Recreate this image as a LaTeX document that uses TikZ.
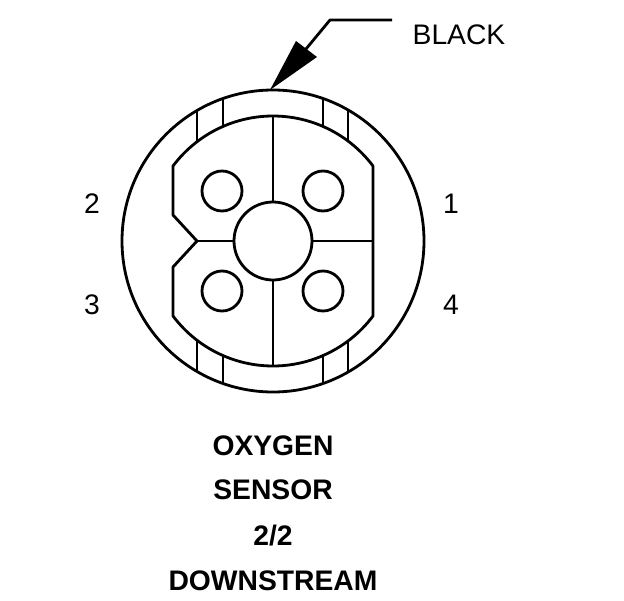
\documentclass[tikz,border=0pt]{standalone}
\usepackage{fontspec}
\setmainfont{Liberation Sans}
\tikzset{
    wire/.style={line width=2.1pt, line join=round},
    pinlabel/.style={font=\fontsize{21.2}{24}\selectfont, inner sep=0pt},
    titlelabel/.style={font=\fontsize{21.2}{24}\selectfont\bfseries, inner sep=0pt}
}
\begin{document}
\begin{tikzpicture}[x=0.75pt,y=0.75pt]
        \useasboundingbox (-273,-359) rectangle (351,241);

        % connector body
        \draw[wire] (0,0) circle (151);
        \draw[wire] (-100,75) arc (143.13:36.87:125) -- (100,-75)
            arc (-36.87:-143.13:125) -- (-100,-26) -- (-76,0) -- (-100,26) -- cycle;

        % center hub and cross
        \node[wire, draw, circle, minimum size=58.5pt, inner sep=0pt] (hub) at (0,0) {};
        \coordinate (notch) at (-76,0);
        \coordinate (sideright) at (100,0);
        \coordinate (archtop) at (0,125);
        \coordinate (archbottom) at (0,-125);
        \draw[wire] (notch) -- (hub);
        \draw[wire] (hub) -- (sideright);
        \draw[wire] (hub) -- (archtop);
        \draw[wire] (hub) -- (archbottom);

        % pins
        \draw[wire] (-51,50) circle (20);
        \draw[wire] (50,50) circle (20);
        \draw[wire] (-51,-50) circle (20);
        \draw[wire] (50,-50) circle (20);

        % ticks between the two arcs
        \foreach \dx in {-76,-50,50,75} {
            \draw[wire] (\dx,{125*sin(acos(\dx/125))}) -- (\dx,{151*sin(acos(\dx/151))});
            \draw[wire] (\dx,{-125*sin(acos(\dx/125))}) -- (\dx,{-151*sin(acos(\dx/151))});
        }

        % leader
        \coordinate (tip) at (-3,151);
        \coordinate (barbleft) at (23,200);
        \coordinate (barbright) at (44,184);
        \coordinate (barbmid) at (33,192);
        \coordinate (bend) at (57,221);
        \coordinate (leaderend) at (119,221);
        \fill (tip) -- (barbleft) -- (barbright) -- cycle;
        \draw[wire] (barbmid) -- (bend) -- (leaderend);
        \node[pinlabel] (blacklabel) at (186,206) {BLACK};

        % pin numbers
        \node[pinlabel] (pintwo) at (-181,37) {2};
        \node[pinlabel] (pinone) at (178,37) {1};
        \node[pinlabel] (pinthree) at (-181,-64) {3};
        \node[pinlabel] (pinfour) at (178,-64) {4};

        % title
        \node[titlelabel] (lineone) at (0,-205) {OXYGEN};
        \node[titlelabel] (linetwo) at (0,-249) {SENSOR};
        \node[titlelabel] (linethree) at (0,-295) {2/2};
        \node[titlelabel] (linefour) at (0,-340) {DOWNSTREAM};

    \end{tikzpicture}
\end{document}
